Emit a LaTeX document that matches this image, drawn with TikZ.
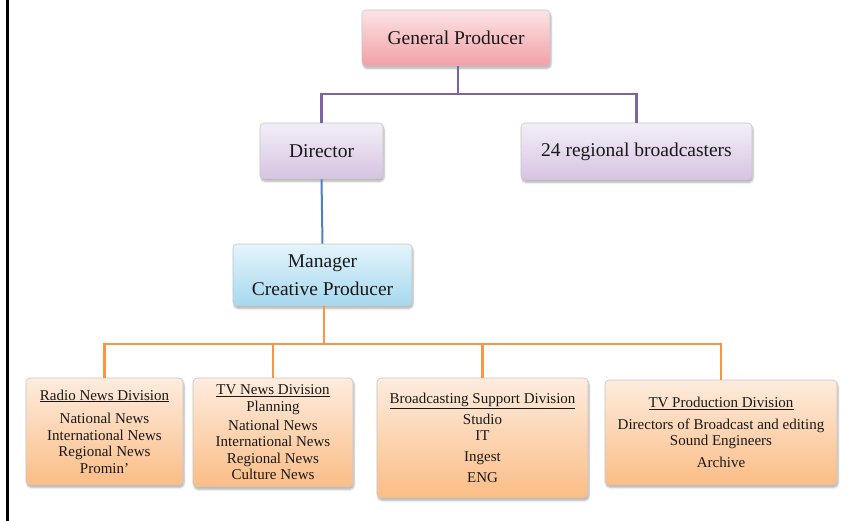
\documentclass[tikz,border=0pt]{standalone}
\usepackage{fontspec}
\setmainfont{Liberation Serif}
\usetikzlibrary{shadows.blur}
\definecolor{pinktop}{HTML}{FCE4E6}
\definecolor{pinkbot}{HTML}{F2A0A5}
\definecolor{lavtop}{HTML}{F4EEF7}
\definecolor{lavbot}{HTML}{D6C4E2}
\definecolor{bluetop}{HTML}{E4F4FB}
\definecolor{bluebot}{HTML}{A6D8EE}
\definecolor{peachtop}{HTML}{FDECDE}
\definecolor{peachbot}{HTML}{FBBD86}
\definecolor{purpleline}{HTML}{8064A2}
\definecolor{blueline}{HTML}{4F81BD}
\definecolor{orangeline}{HTML}{F79646}

\begin{document}
\begin{tikzpicture}[x=1pt, y=-1pt,
  box/.style={rounded corners=4pt, draw=black!22, line width=0.6pt, inner sep=0pt,
    align=center, text=black!90,
    blur shadow={shadow blur steps=6, shadow xshift=1pt, shadow yshift=-2.5pt, shadow opacity=30}},
  upper/.style={box, font=\fontsize{19.5}{23}\selectfont},
  division/.style={box, top color=peachtop, bottom color=peachbot,
    font=\fontsize{15}{16.5}\selectfont},
  link/.style={line width=2.6pt}]
\useasboundingbox (0,0) rectangle (851,521);
\draw[line width=2.5pt] (7.5,0) -- (7.5,521);

\node[upper, top color=pinktop, bottom color=pinkbot, minimum width=188pt, minimum height=56pt]
  (gp) at (456,38) {General Producer};
\node[upper, top color=lavtop, bottom color=lavbot, minimum width=123pt, minimum height=56pt]
  (dir) at (321.5,151) {Director};
\node[upper, top color=lavtop, bottom color=lavbot, minimum width=231pt, minimum height=57pt]
  (reg) at (636.5,151.5) {24 regional broadcasters};
\node[upper, top color=bluetop, bottom color=bluebot, minimum width=179pt, minimum height=62pt]
  (mgr) at (322.5,275) {Manager\\[5pt]Creative Producer};

\node[division, minimum width=157pt, minimum height=107pt] (radio) at (104.5,431.5)
  {\underline{Radio News Division}\\[7pt]National News\\International News\\Regional News\\Promin'};
\node[division, minimum width=160pt, minimum height=109pt] (tvnews) at (273,432.5)
  {\underline{TV News Division}\\Planning\\[2.5pt]National News\\International News\\Regional News\\Culture News};
\node[division, minimum width=211pt, minimum height=120pt] (bsd) at (482.5,438)
  {\underline{Broadcasting Support Division}\\[4.5pt]Studio\\IT\\[4.5pt]Ingest\\[4.5pt]ENG};
\node[division, minimum width=232pt, minimum height=105pt] (tvprod) at (721,432.5)
  {\underline{TV Production Division}\\[5.5pt]Directors of Broadcast and editing\\Sound Engineers\\[5.5pt]Archive};

\coordinate (pbus) at (458,94);
\coordinate (obus) at (324,344);
\draw[link, purpleline] (gp.south -| pbus) -- (pbus) -| (dir.north);
\draw[link, purpleline] (pbus) -| (reg.north);
\draw[link, blueline, line width=2pt] (dir.south) -- (mgr.north);
\draw[link, orangeline] (mgr.south -| obus) -- (obus);
\foreach \div in {radio,tvnews,bsd,tvprod}
  \draw[link, orangeline] (obus) -| (\div.north);
\end{tikzpicture}
\end{document}
